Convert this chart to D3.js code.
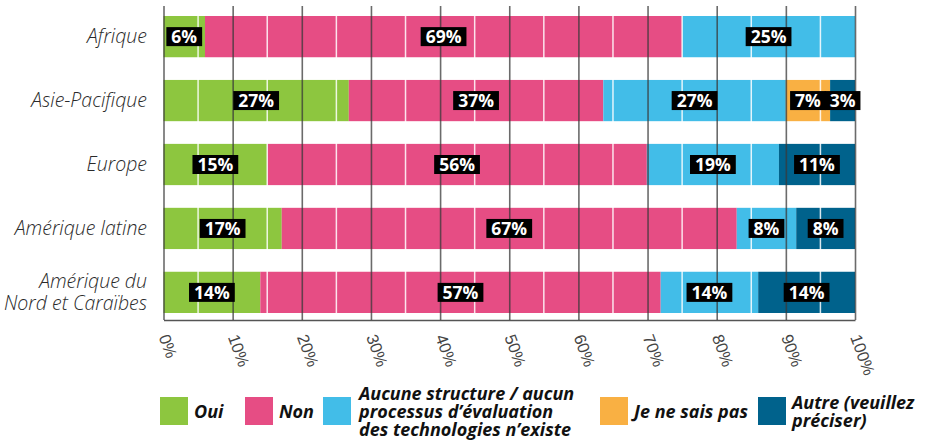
<!DOCTYPE html>
<html>
<head>
<meta charset="utf-8">
<script src="https://cdn.jsdelivr.net/npm/d3@7"></script>
<style>
  body { margin: 0; background: #fff; }
  svg { display: block; font-family: "Open Sans", sans-serif; }
</style>
</head>
<body>
<div id="holder"></div>
<script>
const w = 926;
const h = 448;

// DATA (bar widths in %)
const regions = ["Afrique", "Asie-Pacifique", "Europe", "Amérique latine", "Amérique du\nNord et Caraïbes"];
const oui = [6, 26.8, 15, 17.1, 14];
const non = [69, 36.8, 54.9, 65.8, 57.9];
const aucune = [25, 26.4, 19.1, 8.6, 14.1];
const jnsp = [0, 6.4, 0, 0, 0];
const autre = [0, 3.6, 11, 8.5, 14];

// printed labels (as shown on the chart)
const ouiText = [6, 27, 15, 17, 14];
const nonText = [69, 37, 56, 67, 57];
const aucuneText = [25, 27, 19, 8, 14];
const jnspText = [null, 7, null, null, null];
const autreText = [null, 3, 11, 8, 14];

const keys = ["oui", "non", "aucune", "jnsp", "autre"];
const legendLabels = ["Oui", "Non", "Aucune structure / aucun\nprocessus d’évaluation\ndes technologies n’existe", "Je ne sais pas", "Autre (veuillez\npréciser)"];
const colors = ["#8dc63f", "#e64d84", "#42bde8", "#f9b043", "#00628c"];
const xTicks = [0, 10, 20, 30, 40, 50, 60, 70, 80, 90, 100];

const rows = regions.map((r, i) => ({
    region: r,
    oui: oui[i], non: non[i], aucune: aucune[i], jnsp: jnsp[i], autre: autre[i],
    text: {oui: ouiText[i], non: nonText[i], aucune: aucuneText[i], jnsp: jnspText[i], autre: autreText[i]}
}));

const series = d3.stack().keys(keys)(rows);

// SCALES
const x = d3.scaleLinear().domain([0, 100]).range([163.5, 855]);
const y = d3.scaleBand().domain(regions).range([16, 313]).paddingInner(0.355).paddingOuter(0);
const color = d3.scaleOrdinal().domain(keys).range(colors);

const svg = d3.select("#holder").append("svg")
    .attr("width", w)
    .attr("height", h);

// BARS
svg.append("g")
    .selectAll("g")
    .data(series)
    .join("g")
    .attr("fill", d => color(d.key))
    .selectAll("rect")
    .data(d => d)
    .join("rect")
    .attr("x", d => x(d[0]))
    .attr("y", d => y(d.data.region))
    .attr("width", d => x(d[1]) - x(d[0]))
    .attr("height", y.bandwidth());

// white minor lines at 5%, 15% ... over the bars
svg.append("g")
    .selectAll("line")
    .data(d3.range(5, 100, 10))
    .join("line")
    .attr("x1", d => x(d)).attr("x2", d => x(d))
    .attr("y1", 16).attr("y2", 313)
    .attr("stroke", "#fff")
    .attr("stroke-opacity", 0.85)
    .attr("stroke-width", 1.5);

// X AXIS + grid
const xAxis = d3.axisBottom(x)
    .tickValues(xTicks)
    .tickFormat(d => d + "%")
    .tickSize(-314)
    .tickSizeOuter(0)
    .tickPadding(0);

const gx = svg.append("g")
    .attr("transform", "translate(0,320)")
    .call(xAxis);

gx.select(".domain").attr("stroke", "#555").attr("stroke-width", 1.5);
gx.selectAll(".tick line").attr("stroke", "#3a3a3a").attr("stroke-opacity", 0.75).attr("stroke-width", 1.6);
gx.selectAll(".tick text")
    .attr("fill", "#444")
    .attr("font-size", 16.5)
    .attr("font-weight", 300)
    .attr("text-anchor", "start")
    .attr("transform", "translate(0,15) rotate(70)")
    .attr("y", 0)
    .attr("dy", "0.35em");

// Y LABELS
const yl = svg.append("g")
    .selectAll("text")
    .data(regions)
    .join("text")
    .attr("x", 147)
    .attr("y", d => y(d) + y.bandwidth() / 2)
    .attr("text-anchor", "end")
    .attr("font-size", 19.5)
    .attr("font-style", "italic")
    .attr("font-weight", 300)
    .attr("fill", "#2a2a2a");

yl.each(function (d) {
    const lines = d.split("\n");
    const t = d3.select(this);
    lines.forEach((l, i) => {
        t.append("tspan")
            .attr("x", 147)
            .attr("dy", i === 0 ? (0.35 - (lines.length - 1) * 0.56) + "em" : "1.12em")
            .text(l);
    });
});

// VALUE LABELS
const labels = [];
series.forEach(s => s.forEach(d => {
    const v = d.data.text[s.key];
    if (v != null) labels.push({x: (x(d[0]) + x(d[1])) / 2, y: y(d.data.region) + y.bandwidth() / 2, v: v});
}));

const lg = svg.append("g")
    .selectAll("g")
    .data(labels)
    .join("g")
    .attr("transform", d => "translate(" + d.x + "," + d.y + ")");

lg.append("rect").attr("fill", "#000");
lg.append("text")
    .attr("text-anchor", "middle")
    .attr("dy", "0.36em")
    .attr("font-size", 17.5)
    .attr("font-weight", 700)
    .attr("fill", "#fff")
    .text(d => d.v + "%");

lg.each(function () {
    const g = d3.select(this);
    const tw = g.select("text").node().getComputedTextLength();
    g.select("rect")
        .attr("x", -tw / 2 - 5)
        .attr("y", -9.5)
        .attr("width", tw + 10)
        .attr("height", 19);
});

// LEGEND
const legendX = [160, 245, 323, 600, 758];
const leg = svg.append("g")
    .selectAll("g")
    .data(keys)
    .join("g")
    .attr("transform", (d, i) => "translate(" + legendX[i] + ",397)");

leg.append("rect")
    .attr("width", 28)
    .attr("height", 28)
    .attr("fill", d => color(d));

leg.append("text")
    .attr("font-size", 18)
    .attr("font-style", "italic")
    .attr("font-weight", 700)
    .attr("fill", "#111")
    .each(function (d, i) {
        const lines = legendLabels[i].split("\n");
        const t = d3.select(this);
        lines.forEach((l, j) => {
            t.append("tspan")
                .attr("x", i === 2 ? 36 : 34)
                .attr("y", 15)
                .attr("dy", (0.35 + (j - (lines.length - 1) / 2) * 1.0) + "em")
                .text(l);
        });
    });
</script>
</body>
</html>
